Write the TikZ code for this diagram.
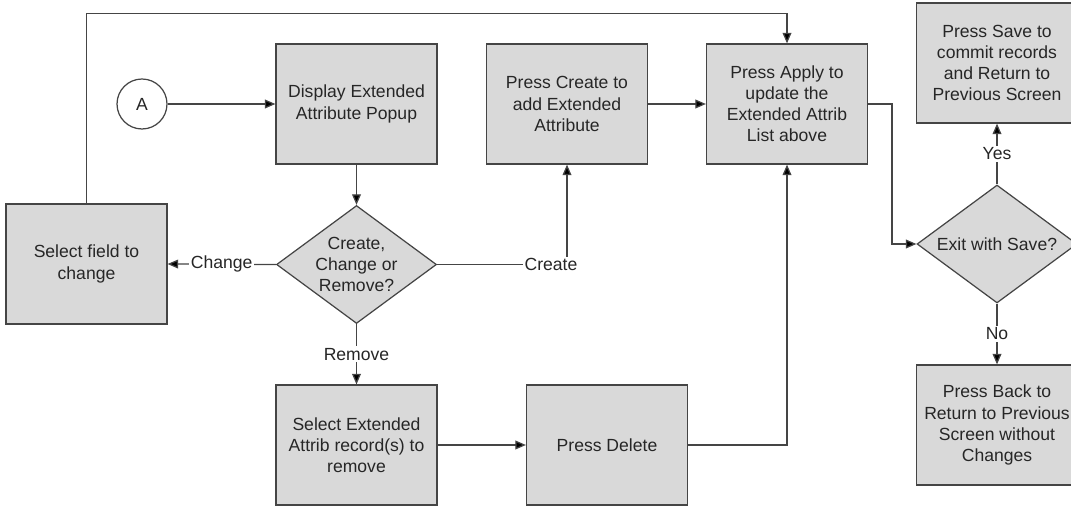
\documentclass[tikz,border=0pt]{standalone}
\usepackage{fontspec}
\setmainfont{Liberation Sans}
\usepackage{tikz}
\usepackage{xcolor}
\usetikzlibrary{shapes.geometric, arrows.meta, positioning}
\definecolor{BoxFill}{HTML}{D9D9D9}
\definecolor{BoxLine}{HTML}{454545}
\definecolor{InkGray}{HTML}{262626}

\begin{document}
\begin{tikzpicture}[x=0.02cm, y=-0.02cm,
    font=\fontsize{10}{12}\selectfont, text=InkGray,
    stepbox/.style={rectangle, draw=BoxLine, fill=BoxFill, line width=0.7pt,
        minimum width=3.22cm, minimum height=2.4cm, align=center, inner sep=2pt},
    choice/.style={diamond, draw=BoxLine, fill=BoxFill, line width=0.7pt,
        minimum width=3.2cm, minimum height=2.36cm, aspect=1.35, inner sep=0pt, align=center},
    jump/.style={circle, draw=BoxLine, fill=white, line width=0.7pt, minimum size=1cm, inner sep=0pt},
    flow/.style={draw=BoxLine, line width=0.7pt, -{Triangle[length=6pt, width=5pt, fill=black]}},
    lbl/.style={fill=white, inner sep=1pt}]
    \useasboundingbox (0,0) rectangle (1071,506);

    % Top row
    \node[jump] (A) at (142,104) {A};
    \node[stepbox] (disp) at (356.5,104) {Display Extended\\Attribute Popup};
    \node[stepbox] (create) at (567,104) {Press Create to\\add Extended\\Attribute};
    \node[stepbox] (apply) at (787,104) {Press Apply to\\update the\\Extended Attrib\\List above};
    \node[stepbox] (save) at (997,63) {Press Save to\\commit records\\and Return to\\Previous Screen};

    % Middle row
    \node[stepbox] (select) at (86.5,264) {Select field to\\change};
    \node[choice] (dec1) at (356.5,264.5) {Create,\\Change or\\Remove?};
    \node[choice] (dec2) at (997,244) {Exit with Save?};

    % Bottom row
    \node[stepbox] (selext) at (356.5,445) {Select Extended\\Attrib record(s) to\\remove};
    \node[stepbox] (delete) at (607,445) {Press Delete};
    \node[stepbox] (back) at (997,425) {Press Back to\\Return to Previous\\Screen without\\Changes};

    % Connectors
    \draw[flow] (A.east) -- (disp.west);
    \draw[flow] (disp.south) -- (dec1.north);
    \draw[flow] (dec1.west) -- node[lbl] {Change} (select.east);
    \draw[flow] (dec1.east) -| node[lbl, xshift=-0.32cm] {Create} (create.south);
    \draw[flow] (dec1.south) -- node[lbl] {Remove} (selext.north);
    \draw[flow] (select.north) |- ([yshift=0.6cm]apply.north) -- (apply.north);
    \draw[flow] (create.east) -- (apply.west);
    \draw[flow] (selext.east) -- (delete.west);
    \draw[flow] (delete.east) -| (apply.south);
    \draw[flow] (apply.east) -- ++(24,0) |- (dec2.west);
    \draw[flow] (dec2.north) -- node[lbl] {Yes} (save.south);
    \draw[flow] (dec2.south) -- node[lbl] {No} (back.north);
\end{tikzpicture}
\end{document}
